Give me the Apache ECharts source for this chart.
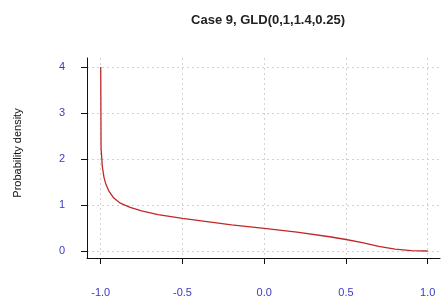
<!DOCTYPE html>
<html>
<head>
<meta charset="utf-8">
<script src="https://cdn.jsdelivr.net/npm/echarts@6/dist/echarts.min.js"></script>
<style>
	html, body { margin: 0; padding: 0; background: #fff; }
	#chart { width: 445px; height: 304px; }
</style>
</head>
<body>
<div id="chart"></div>
<script>
// density
var xValues = [-1.0, -0.998, -0.99, -0.98, -0.97, -0.95, -0.92, -0.88, -0.82, -0.75, -0.65, -0.5, -0.35, -0.2, 0.0, 0.2, 0.4, 0.5, 0.6, 0.7, 0.8, 0.9, 1.0];
var density = [4.0, 2.24, 1.83, 1.6, 1.47, 1.3, 1.15, 1.04, 0.95, 0.87, 0.79, 0.71, 0.64, 0.57, 0.49, 0.41, 0.31, 0.25, 0.18, 0.1, 0.04, 0.01, 0.0];
var xTicks = [-1, -0.5, 0, 0.5, 1];
var yTicks = [0, 1, 2, 3, 4];

var points = xValues.map(function(x, i) { return [x, density[i]]; });

var labelBlue = '#3a3ac4';

var option = {
	animation: false,
	backgroundColor: '#fff',
	title: {
		text: 'Case 9, GLD(0,1,1.4,0.25)',
		left: 263,
		top: 9,
		textAlign: 'center',
		textStyle: {
			fontFamily: 'Liberation Sans, Arial, sans-serif',
			fontSize: 13,
			fontWeight: 'bold',
			color: '#222'
		}
	},
	grid: {
		left: 87,
		right: 5,
		top: 58,
		bottom: 46
	},
	xAxis: {
		type: 'value',
		min: -1.084,
		max: 1.075,
		axisLine: { onZero: false, lineStyle: { color: '#111', width: 1 } },
		axisTick: { length: 6, lineStyle: { color: '#111' }, customValues: xTicks },
		axisLabel: {
			customValues: xTicks,
			margin: 29,
			color: labelBlue,
			fontSize: 11,
			fontFamily: 'Liberation Sans, Arial, sans-serif',
			formatter: function(v) { return v.toFixed(1); }
		},
		splitLine: { show: true, lineStyle: { color: '#d2d2d2', type: [2, 3] } }
	},
	yAxis: {
		type: 'value',
		min: -0.152,
		max: 4.196,
		name: 'Probability density',
		nameLocation: 'middle',
		nameGap: 64,
		nameTextStyle: {
			fontFamily: 'Liberation Sans, Arial, sans-serif',
			fontSize: 11,
			color: '#111',
			padding: [0, 0, 0, 10]
		},
		axisLine: { show: true, onZero: false, lineStyle: { color: '#111', width: 1 } },
		axisTick: { show: true, length: 6, lineStyle: { color: '#111' }, customValues: yTicks },
		axisLabel: {
			customValues: yTicks,
			margin: 22,
			color: labelBlue,
			fontSize: 11,
			fontFamily: 'Liberation Sans, Arial, sans-serif'
		},
		splitLine: { show: true, lineStyle: { color: '#d2d2d2', type: [2, 3] } }
	},
	series: [{
		type: 'line',
		data: points,
		showSymbol: false,
		smooth: false,
		lineStyle: { color: '#c02828', width: 1.3 }
	}]
};

var chart = echarts.init(document.getElementById('chart'));
chart.setOption(option);
</script>
</body>
</html>
